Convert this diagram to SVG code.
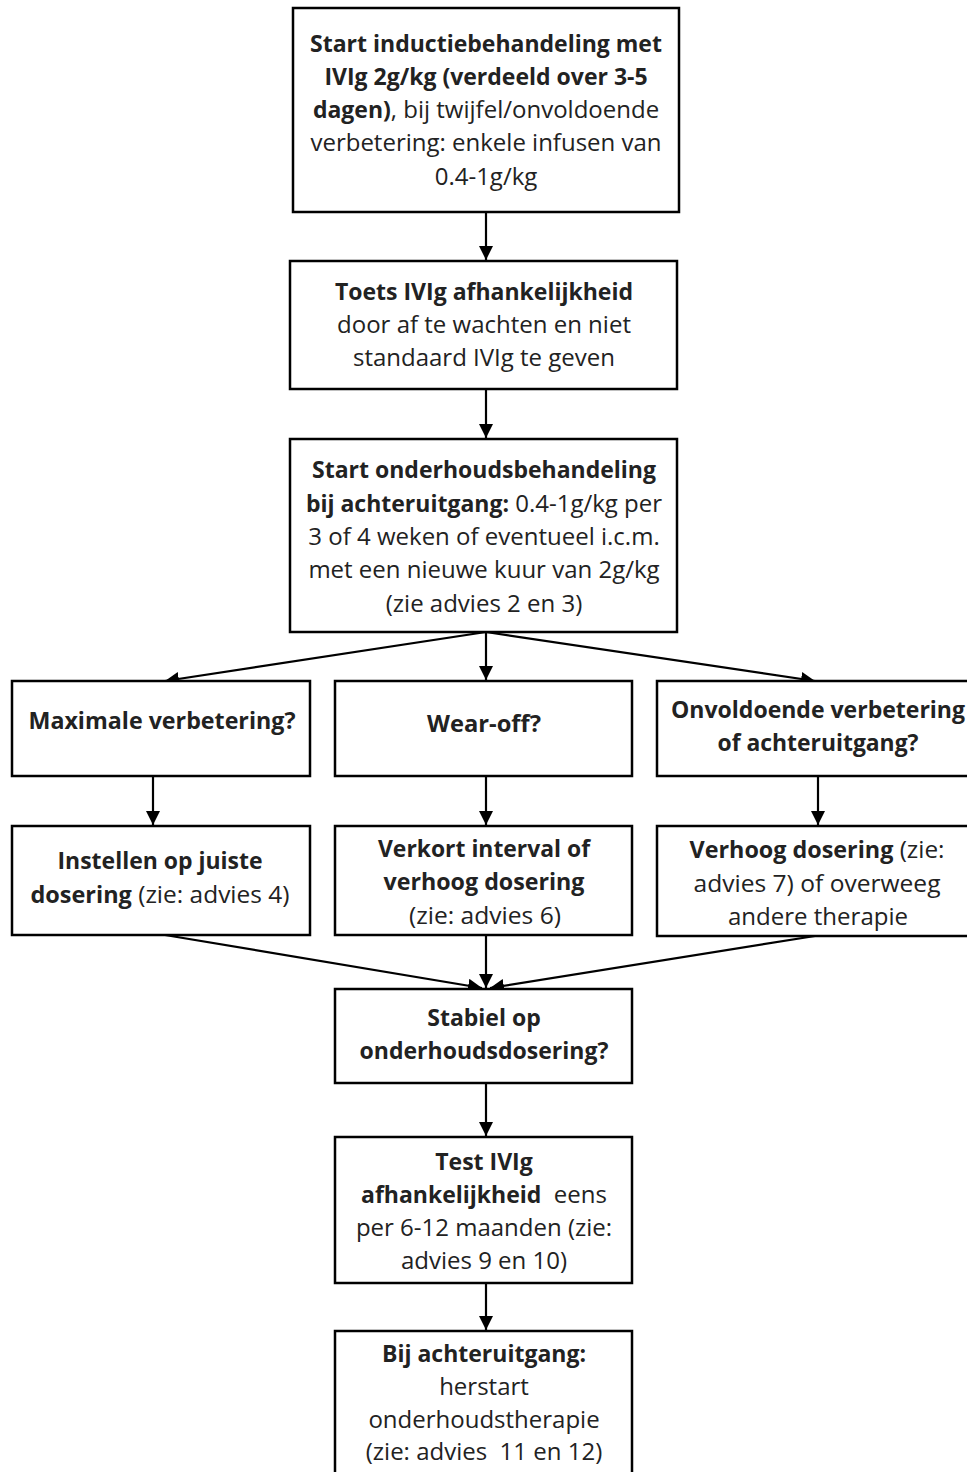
<svg xmlns="http://www.w3.org/2000/svg" width="967" height="1472" viewBox="0 0 967 1472">
<defs>
<style>
.box{fill:#fff;stroke:#000;stroke-width:2.5}
.t{font-family:"Open Sans","Noto Sans",sans-serif;font-size:24px;fill:#222;text-anchor:middle}
.b{font-weight:bold;font-size:23px}
.c{stroke:#000;stroke-width:2.2;fill:none;marker-end:url(#ah)}
</style>
<marker id="ah" markerUnits="userSpaceOnUse" markerWidth="16" markerHeight="16" refX="14" refY="7" orient="auto">
<path d="M0,0 L14,7 L0,14 Z" fill="#000"/>
</marker>
</defs>
<rect width="967" height="1472" fill="#fff"/>
<g id="connectors">
<path class="c" d="M486,212 V260"/>
<path class="c" d="M486,389 V438"/>
<path class="c" d="M486,632 L165,681"/>
<path class="c" d="M486,632 V680"/>
<path class="c" d="M486,632 L815,681"/>
<path class="c" d="M153,776 V825"/>
<path class="c" d="M486,776 V825"/>
<path class="c" d="M818,776 V825"/>
<path class="c" d="M165,935 L482,988"/>
<path class="c" d="M486,935 V988"/>
<path class="c" d="M815,936 L490,988"/>
<path class="c" d="M486,1083 V1136"/>
<path class="c" d="M486,1283 V1330"/>
</g>
<g id="n1">
<rect class="box" x="293" y="8" width="386" height="204"/>
<text class="t b" x="486" y="52">Start inductiebehandeling met</text>
<text class="t b" x="486" y="85">IVIg 2g/kg (verdeeld over 3-5</text>
<text class="t" x="486" y="118"><tspan class="b">dagen)</tspan>, bij twijfel/onvoldoende</text>
<text class="t" x="486" y="151">verbetering: enkele infusen van</text>
<text class="t" x="486" y="185">0.4-1g/kg</text>
</g>
<g id="n2">
<rect class="box" x="290" y="261" width="387" height="128"/>
<text class="t b" x="484" y="300">Toets IVIg afhankelijkheid</text>
<text class="t" x="484" y="333">door af te wachten en niet</text>
<text class="t" x="484" y="366">standaard IVIg te geven</text>
</g>
<g id="n3">
<rect class="box" x="290" y="439" width="387" height="193"/>
<text class="t b" x="484" y="478">Start onderhoudsbehandeling</text>
<text class="t" x="484" y="512"><tspan class="b">bij achteruitgang:</tspan> 0.4-1g/kg per</text>
<text class="t" x="484" y="545">3 of 4 weken of eventueel i.c.m.</text>
<text class="t" x="484" y="578">met een nieuwe kuur van 2g/kg</text>
<text class="t" x="484" y="612">(zie advies 2 en 3)</text>
</g>
<g id="n4">
<rect class="box" x="12" y="681" width="298" height="95"/>
<text class="t b" x="162" y="729" textLength="267" lengthAdjust="spacingAndGlyphs">Maximale verbetering?</text>
</g>
<g id="n5">
<rect class="box" x="335" y="681" width="297" height="95"/>
<text class="t b" x="484" y="732" textLength="114" lengthAdjust="spacingAndGlyphs">Wear-off?</text>
</g>
<g id="n6">
<rect class="box" x="657" y="681" width="315" height="95"/>
<text class="t b" x="818" y="718" textLength="294" lengthAdjust="spacingAndGlyphs">Onvoldoende verbetering</text>
<text class="t b" x="818" y="751" textLength="201" lengthAdjust="spacingAndGlyphs">of achteruitgang?</text>
</g>
<g id="n7">
<rect class="box" x="12" y="826" width="298" height="109"/>
<text class="t b" x="160" y="869" textLength="205" lengthAdjust="spacingAndGlyphs">Instellen op juiste</text>
<text class="t" x="160" y="903" textLength="259" lengthAdjust="spacingAndGlyphs"><tspan class="b">dosering</tspan> (zie: advies 4)</text>
</g>
<g id="n8">
<rect class="box" x="335" y="826" width="297" height="109"/>
<text class="t b" x="484" y="857" textLength="212" lengthAdjust="spacingAndGlyphs">Verkort interval of</text>
<text class="t b" x="484" y="890" textLength="201" lengthAdjust="spacingAndGlyphs">verhoog dosering</text>
<text class="t" x="485" y="924" textLength="152" lengthAdjust="spacingAndGlyphs">(zie: advies 6)</text>
</g>
<g id="n9">
<rect class="box" x="657" y="826" width="315" height="110"/>
<text class="t" x="817" y="858" textLength="255" lengthAdjust="spacingAndGlyphs"><tspan class="b">Verhoog dosering</tspan> (zie:</text>
<text class="t" x="817" y="892" textLength="247" lengthAdjust="spacingAndGlyphs">advies 7) of overweeg</text>
<text class="t" x="818" y="925" textLength="180" lengthAdjust="spacingAndGlyphs">andere therapie</text>
</g>
<g id="n10">
<rect class="box" x="335" y="989" width="297" height="94"/>
<text class="t b" x="484" y="1026">Stabiel op</text>
<text class="t b" x="484" y="1059">onderhoudsdosering?</text>
</g>
<g id="n11">
<rect class="box" x="335" y="1137" width="297" height="146"/>
<text class="t b" x="484" y="1170">Test IVIg</text>
<text class="t" x="484" y="1203"><tspan class="b">afhankelijkheid</tspan>&#160; eens</text>
<text class="t" x="484" y="1236">per 6-12 maanden (zie:</text>
<text class="t" x="484" y="1269">advies 9 en 10)</text>
</g>
<g id="n12">
<rect class="box" x="335" y="1331" width="297" height="150"/>
<text class="t b" x="484" y="1362">Bij achteruitgang:</text>
<text class="t" x="484" y="1395">herstart</text>
<text class="t" x="484" y="1428">onderhoudstherapie</text>
<text class="t" x="484" y="1460">(zie: advies&#160; 11 en 12)</text>
</g>
</svg>
